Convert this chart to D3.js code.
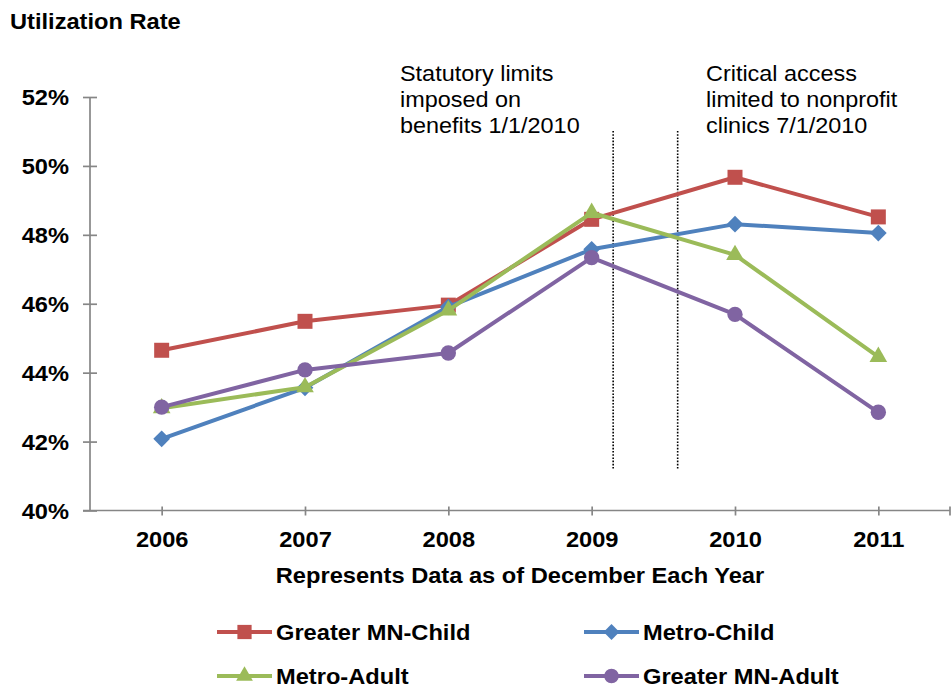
<!DOCTYPE html>
<html>
<head>
<meta charset="utf-8">
<script src="https://cdn.jsdelivr.net/npm/d3@7"></script>
<style>
  html, body { margin: 0; padding: 0; background: #fff; }
  svg { display: block; font-family: "Liberation Sans", Arial, sans-serif; }
</style>
</head>
<body>
<svg id="chart" width="951" height="688"></svg>
<script>
// ---- data ----
const years = [2006, 2007, 2008, 2009, 2010, 2011];
const greaterMNChild = [44.65, 45.49, 45.96, 48.45, 49.67, 48.52];
const metroChild     = [42.08, 43.56, 45.91, 47.58, 48.31, 48.05];
const metroAdult     = [42.97, 43.58, 45.81, 48.64, 47.42, 44.46];
const greaterMNAdult = [43.00, 44.08, 44.57, 47.34, 45.69, 42.85];
const seriesNames = ["Greater MN-Child", "Metro-Child", "Metro-Adult", "Greater MN-Adult"];
const yTicks = [40, 42, 44, 46, 48, 50, 52];
const policyMarks = [2009.15, 2009.6];
const noteStatutory = ["Statutory limits", "imposed on", "benefits 1/1/2010"];
const noteCritical = ["Critical access", "limited to nonprofit", "clinics 7/1/2010"];
const yTitle = "Utilization Rate";
const xTitle = "Represents Data as of December Each Year";

// ---- styles ----
const colors = ["#C0504D", "#4F81BD", "#9BBB59", "#8064A2"];
const symbols = [
  { type: d3.symbolSquare, size: 225, rot: 0 },
  { type: d3.symbolSquare, size: 140, rot: 45 },
  { type: d3.symbolTriangle, size: 135, rot: 0 },
  { type: d3.symbolCircle, size: 185, rot: 0 }
];
const seriesValues = [greaterMNChild, metroChild, metroAdult, greaterMNAdult];
const SX = 1.1; // horizontal stretch of text in the reference

const svg = d3.select("#chart");
svg.append("rect").attr("width", 951).attr("height", 688).attr("fill", "#fff");

const x = d3.scalePoint().domain(years).range([90, 950]).padding(0.5);
const xLin = d3.scaleLinear().domain([years[0], years[years.length - 1]])
  .range([x(years[0]), x(years[years.length - 1])]);
const y = d3.scaleLinear().domain([40, 52]).range([510.5, 97]);

const axisColor = "#868686";

// Y axis
const gy = svg.append("g").attr("transform", "translate(90,0)")
  .call(d3.axisLeft(y).tickValues(yTicks).tickFormat(d => d + "%").tickSize(7));
gy.select(".domain").attr("stroke", axisColor).attr("stroke-width", 1.7)
  .attr("d", `M0,${y(52)}V${y(40)}`);
gy.selectAll(".tick line").attr("stroke", axisColor).attr("stroke-width", 1.7)
  .attr("x1", -7).attr("x2", 7);
gy.selectAll(".tick text")
  .attr("x", null).attr("dy", null)
  .attr("transform", `translate(-21,7.5) scale(${SX},1)`)
  .attr("fill", "#000").attr("font-size", 21.5).attr("font-weight", "bold")
  .attr("font-family", "'Liberation Sans', Arial, sans-serif");

// X axis
const gx = svg.append("g").attr("transform", `translate(0,${y(40)})`)
  .call(d3.axisBottom(x).tickSize(5));
gx.select(".domain").attr("stroke", axisColor).attr("stroke-width", 1.7)
  .attr("d", "M83,0H950");
gx.selectAll(".tick line").attr("stroke", axisColor).attr("stroke-width", 1.7)
  .attr("y1", -4).attr("y2", 5);
gx.append("line").attr("x1", 950).attr("x2", 950).attr("y1", -4).attr("y2", 5)
  .attr("stroke", axisColor).attr("stroke-width", 1.7);
gx.selectAll(".tick text")
  .attr("y", null).attr("dy", null)
  .attr("transform", `translate(0,36.5) scale(${SX},1)`)
  .attr("fill", "#000").attr("font-size", 21.5).attr("font-weight", "bold")
  .attr("font-family", "'Liberation Sans', Arial, sans-serif");

// Titles
svg.append("text").attr("transform", `translate(10,29) scale(${SX},1)`)
  .attr("font-size", 21.5).attr("font-weight", "bold").text(yTitle);
svg.append("text").attr("transform", `translate(520,583) scale(${SX},1)`)
  .attr("text-anchor", "middle").attr("font-size", 21.5).attr("font-weight", "bold").text(xTitle);

// Dotted policy lines
svg.selectAll(".policy").data(policyMarks).enter().append("line")
  .attr("x1", d => xLin(d)).attr("x2", d => xLin(d))
  .attr("y1", 131).attr("y2", 470)
  .attr("stroke", "#000").attr("stroke-width", 1.6).attr("stroke-dasharray", "1.6,1.6");

// Notes
function note(lines, x0) {
  const t = svg.append("g");
  lines.forEach((s, i) => {
    t.append("text").attr("transform", `translate(${x0},${81 + i * 26}) scale(${SX},1)`)
      .attr("font-size", 21.3).attr("fill", "#000").text(s);
  });
}
note(noteStatutory, 400);
note(noteCritical, 706);

// Series
const line = d3.line().x((d, i) => x(years[i])).y(d => y(d));
seriesValues.forEach((vals, si) => {
  const g = svg.append("g");
  g.append("path").datum(vals).attr("d", line).attr("fill", "none")
    .attr("stroke", colors[si]).attr("stroke-width", 4).attr("stroke-linejoin", "round");
  const sym = symbols[si];
  g.selectAll("path.m").data(vals).enter().append("path").attr("class", "m")
    .attr("d", d3.symbol().type(sym.type).size(sym.size))
    .attr("transform", (d, i) => `translate(${x(years[i])},${y(d)}) rotate(${sym.rot})`)
    .attr("fill", colors[si]);
});

// Legend
const legendPos = [
  { lx: 217, ly: 632 }, { lx: 584, ly: 632 },
  { lx: 217, ly: 676 }, { lx: 584, ly: 676 }
];
seriesNames.forEach((name, si) => {
  const p = legendPos[si];
  const g = svg.append("g");
  g.append("line").attr("x1", p.lx).attr("x2", p.lx + 55).attr("y1", p.ly).attr("y2", p.ly)
    .attr("stroke", colors[si]).attr("stroke-width", 4);
  const sym = symbols[si];
  g.append("path").attr("d", d3.symbol().type(sym.type).size(sym.size * 0.9))
    .attr("transform", `translate(${p.lx + 27.5},${p.ly}) rotate(${sym.rot})`)
    .attr("fill", colors[si]);
  g.append("text").attr("transform", `translate(${p.lx + 59},${p.ly + 8}) scale(${SX},1)`)
    .attr("font-size", 21.5).attr("font-weight", "bold").attr("fill", "#000").text(name);
});
</script>
</body>
</html>
